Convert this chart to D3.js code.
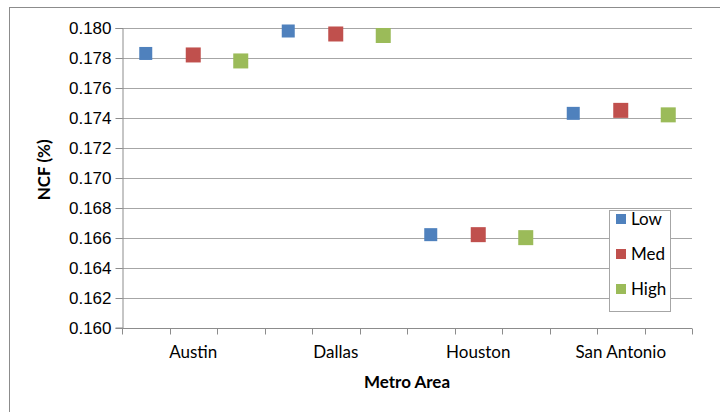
<!DOCTYPE html>
<html>
<head>
<meta charset="utf-8">
<script src="https://cdn.jsdelivr.net/npm/d3@7/dist/d3.min.js"></script>
<style>
  html, body { margin: 0; padding: 0; background: #fff; }
  svg { display: block; font-family: Lato, "Open Sans", sans-serif; }
</style>
</head>
<body>
<svg id="chart" width="720" height="412"></svg>
<script>
// Net capacity factor by metro area for three scenarios
const metros = ["Austin", "Dallas", "Houston", "San Antonio"];
const seriesNames = ["Low", "Med", "High"];
const lowValues  = [0.1783, 0.1798, 0.1662, 0.1743];
const medValues  = [0.1782, 0.1796, 0.1662, 0.1745];
const highValues = [0.1778, 0.1795, 0.1660, 0.1742];
const yTicks = [0.160, 0.162, 0.164, 0.166, 0.168, 0.170, 0.172, 0.174, 0.176, 0.178, 0.180];

const colors = ["#4F81BD", "#C0504D", "#9BBB59"];
const markerSize = [13, 15, 15];
const seriesValues = [lowValues, medValues, highValues];
const fontSize = 17;

const svg = d3.select("#chart");
const plot = { left: 122, right: 692, top: 28, bottom: 327.5 };

// outer chart frame
svg.append("rect")
  .attr("x", 9.5).attr("y", 7.5)
  .attr("width", 720).attr("height", 420)
  .attr("fill", "#fff").attr("stroke", "#8c8c8c").attr("stroke-width", 1);

const x = d3.scaleBand().domain(metros).range([plot.left, plot.right]).padding(0);
const sub = d3.scalePoint().domain(seriesNames).range([0, x.bandwidth()]).padding(0.5);
const y = d3.scaleLinear().domain([0.160, 0.180]).range([plot.bottom, plot.top]);

// horizontal gridlines
svg.append("g")
  .selectAll("line")
  .data(yTicks.slice(1))
  .join("line")
  .attr("x1", plot.left).attr("x2", plot.right)
  .attr("y1", d => Math.round(y(d)) + 0.5).attr("y2", d => Math.round(y(d)) + 0.5)
  .attr("stroke", "#a6a6a6").attr("stroke-width", 1.2);

// y axis
const yAxis = svg.append("g")
  .attr("transform", `translate(${plot.left + 0.5},0)`)
  .call(d3.axisLeft(y).tickValues(yTicks).tickFormat(d3.format(".3f")).tickSize(7).tickPadding(4));
yAxis.select(".domain").attr("stroke", "#8c8c8c");
yAxis.selectAll(".tick line").attr("stroke", "#8c8c8c");
yAxis.selectAll(".tick text").attr("font-size", fontSize).attr("fill", "#000");
yAxis.selectAll(".tick").attr("transform", d => `translate(0,${Math.round(y(d)) + 0.5})`);

// x axis: a tick between every marker slot
const slotTicks = [];
metros.forEach(m => {
  for (let i = 0; i < 3; i++) slotTicks.push(x(m) + i * x.bandwidth() / 3);
});
slotTicks.push(plot.right);
const xAxisG = svg.append("g");
xAxisG.append("line")
  .attr("x1", plot.left).attr("x2", plot.right)
  .attr("y1", Math.round(y(0.160)) + 0.5).attr("y2", Math.round(y(0.160)) + 0.5)
  .attr("stroke", "#8c8c8c");
xAxisG.selectAll("line.tick")
  .data(slotTicks)
  .join("line").attr("class", "tick")
  .attr("x1", d => Math.round(d) + 0.5).attr("x2", d => Math.round(d) + 0.5)
  .attr("y1", Math.round(y(0.160)) + 0.5).attr("y2", Math.round(y(0.160)) + 6.5)
  .attr("stroke", "#8c8c8c");
xAxisG.selectAll("text")
  .data(metros)
  .join("text")
  .attr("x", d => x(d) + x.bandwidth() / 2)
  .attr("y", 358)
  .attr("text-anchor", "middle")
  .attr("font-size", fontSize)
  .text(d => d);

// markers
seriesNames.forEach((s, si) => {
  const sz = markerSize[si];
  svg.append("g")
    .selectAll("rect")
    .data(metros.map((m, i) => ({ m, v: seriesValues[si][i] })))
    .join("rect")
    .attr("x", d => x(d.m) + sub(s) - sz / 2)
    .attr("y", d => y(d.v) - sz / 2)
    .attr("width", sz).attr("height", sz)
    .attr("fill", colors[si]);
});

// axis titles
svg.append("text")
  .attr("transform", `translate(50,${(plot.top + plot.bottom) / 2 - 8}) rotate(-90)`)
  .attr("text-anchor", "middle")
  .attr("font-size", fontSize).attr("font-weight", "bold")
  .text("NCF (%)");
svg.append("text")
  .attr("x", (plot.left + plot.right) / 2).attr("y", 388)
  .attr("text-anchor", "middle")
  .attr("font-size", fontSize).attr("font-weight", "bold")
  .text("Metro Area");

// legend
const legend = svg.append("g");
legend.append("rect")
  .attr("x", 609.5).attr("y", 210.5).attr("width", 61).attr("height", 101)
  .attr("fill", "#fff").attr("stroke", "#a6a6a6");
seriesNames.forEach((s, i) => {
  const cy = 219 + i * 35;
  legend.append("rect")
    .attr("x", 616).attr("y", cy - 5).attr("width", 10).attr("height", 10)
    .attr("fill", colors[i]);
  legend.append("text")
    .attr("x", 631).attr("y", cy + 6)
    .attr("font-size", fontSize)
    .text(s);
});
</script>
</body>
</html>
